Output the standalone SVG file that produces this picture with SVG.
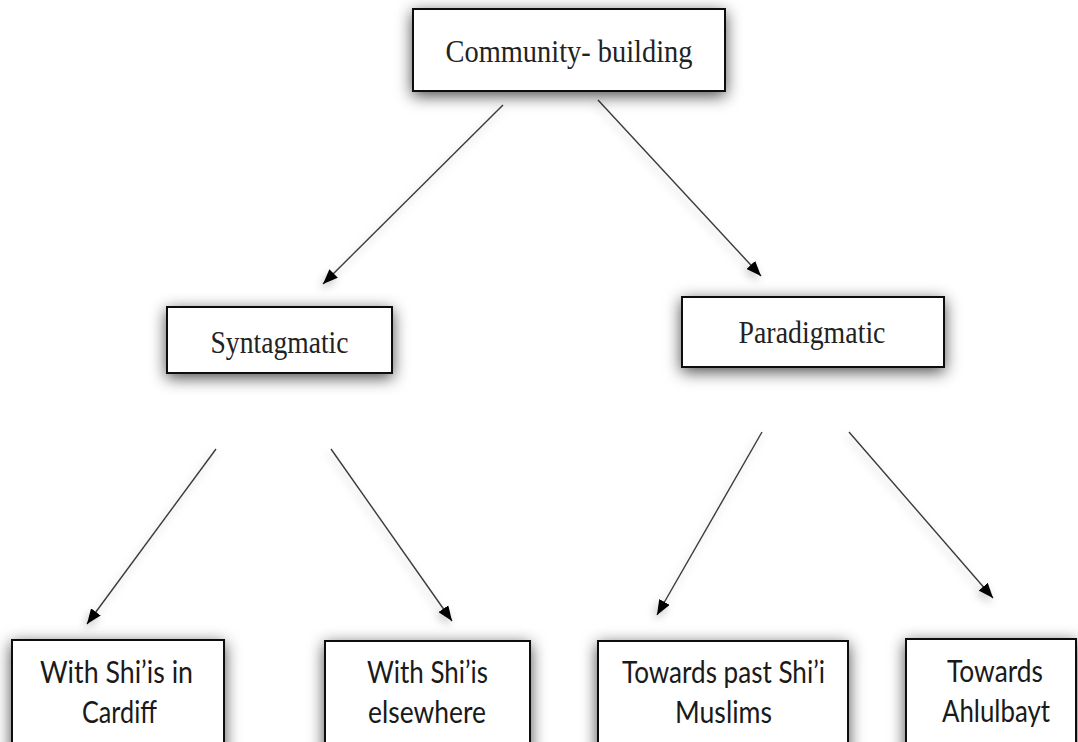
<svg xmlns="http://www.w3.org/2000/svg" width="1078" height="742" viewBox="0 0 1078 742">
<defs>
<style>
.box{fill:#fff;stroke:#111;stroke-width:2;filter:url(#sh)}
.serif{font-family:"Liberation Serif","Times New Roman",serif;fill:#222;text-anchor:middle}
.sans{font-family:Lato,"Open Sans","Liberation Sans",sans-serif;fill:#1a1a1a;text-anchor:middle}
.conn{stroke:#3a3a3a;stroke-width:1.4;fill:none;marker-end:url(#ah);filter:url(#lsh)}
</style>
<filter id="sh" x="-25%" y="-50%" width="150%" height="200%">
<feDropShadow dx="0" dy="4" stdDeviation="8" flood-color="#000" flood-opacity="0.7"/>
</filter>
<filter id="lsh" x="-30%" y="-30%" width="160%" height="160%">
<feDropShadow dx="-2" dy="4" stdDeviation="4" flood-color="#000" flood-opacity="0.25"/>
</filter>
<marker id="ah" markerUnits="userSpaceOnUse" markerWidth="16" markerHeight="12" refX="15" refY="6" orient="auto">
<path d="M0,0 L15,6 L0,12 z" fill="#000"/>
</marker>
</defs>
<rect width="1078" height="742" fill="#fff"/>
<g id="connectors">
<line class="conn" x1="503" y1="105" x2="323" y2="284"/>
<line class="conn" x1="598" y1="100" x2="761" y2="276"/>
<line class="conn" x1="216" y1="449" x2="87" y2="624"/>
<line class="conn" x1="331" y1="449" x2="452" y2="621"/>
<line class="conn" x1="762" y1="432" x2="657" y2="615"/>
<line class="conn" x1="849" y1="432" x2="993" y2="598"/>
</g>
<g id="community-building">
<rect class="box" x="413" y="9" width="312" height="82"/>
<text class="serif" x="569" y="62" font-size="32" textLength="247" lengthAdjust="spacingAndGlyphs">Community- building</text>
</g>
<g id="syntagmatic">
<rect class="box" x="167" y="307" width="225" height="66"/>
<text class="serif" x="279.5" y="353" font-size="32" textLength="138" lengthAdjust="spacingAndGlyphs">Syntagmatic</text>
</g>
<g id="paradigmatic">
<rect class="box" x="682" y="297" width="262" height="70"/>
<text class="serif" x="812" y="343" font-size="31" textLength="147" lengthAdjust="spacingAndGlyphs">Paradigmatic</text>
</g>
<g id="cardiff">
<rect class="box" x="12" y="640" width="212" height="150"/>
<text class="sans" x="116.5" y="683" font-size="30" textLength="153" lengthAdjust="spacingAndGlyphs">With Shi’is in</text>
<text class="sans" x="119.5" y="723" font-size="30" textLength="75" lengthAdjust="spacingAndGlyphs">Cardiff</text>
</g>
<g id="elsewhere">
<rect class="box" x="325" y="641" width="205" height="150"/>
<text class="sans" x="427.5" y="683" font-size="30" textLength="121" lengthAdjust="spacingAndGlyphs">With Shi’is</text>
<text class="sans" x="427" y="723" font-size="30" textLength="118" lengthAdjust="spacingAndGlyphs">elsewhere</text>
</g>
<g id="past-shii">
<rect class="box" x="598" y="641" width="250" height="150"/>
<text class="sans" x="723.5" y="683" font-size="30" textLength="203" lengthAdjust="spacingAndGlyphs">Towards past Shi’i</text>
<text class="sans" x="723.5" y="723" font-size="30" textLength="97" lengthAdjust="spacingAndGlyphs">Muslims</text>
</g>
<g id="ahlulbayt">
<rect class="box" x="906" y="639" width="170" height="150"/>
<text class="sans" x="995" y="682" font-size="30" textLength="96" lengthAdjust="spacingAndGlyphs">Towards</text>
<text class="sans" x="996" y="722" font-size="30" textLength="108" lengthAdjust="spacingAndGlyphs">Ahlulbayt</text>
</g>
</svg>
